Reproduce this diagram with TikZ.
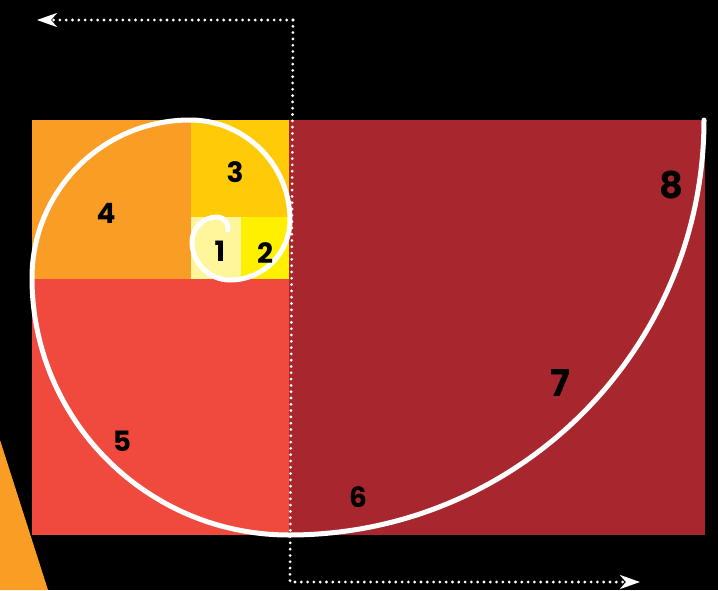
\documentclass[tikz,border=0pt]{standalone}
\usepackage{fontspec}
\setmainfont{Poppins}[BoldFont={Poppins Bold}]
\usetikzlibrary{arrows.meta}
\definecolor{bg}{HTML}{000000}
\definecolor{sqone}{HTML}{FFF59A}
\definecolor{sqtwo}{HTML}{FFF000}
\definecolor{sqthree}{HTML}{FFCB08}
\definecolor{sqfour}{HTML}{F99D25}
\definecolor{sqfive}{HTML}{F0493E}
\definecolor{sqbig}{HTML}{A8272E}
\tikzset{
  tile/.style={fill=#1, draw=none},
  lbl/.style={font=\bfseries\fontsize{28}{28}\selectfont, text=black, inner sep=0pt},
  biglbl/.style={font=\bfseries\fontsize{37}{37}\selectfont, text=black, inner sep=0pt},
  spiral/.style={draw=white, line width=5pt, line cap=round},
  dots/.style={draw=white, line width=3.1pt, line cap=round, dash pattern=on 0pt off 6.3pt},
  tip/.style={-{Stealth[length=20pt,width=14pt,inset=6pt]}}
}
\begin{document}
\begin{tikzpicture}[x=1pt,y=1pt]
\fill[bg] (0,0) rectangle (718,-590);
\useasboundingbox (0,0) rectangle (718,-590);
% orange triangle
\fill[sqfour] (0,-440) -- (48,-590) -- (0,-590) -- cycle;
% tiles
\fill[tile=sqbig]   (289,-120) rectangle (705,-535);
\fill[tile=sqfive]  (32,-279) rectangle (289,-535);
\fill[tile=sqfour]  (32,-120) rectangle (191,-279);
\fill[tile=sqthree] (191,-120) rectangle (289,-217);
\fill[tile=sqone]   (191,-217) rectangle (241,-279);
\fill[tile=sqtwo]   (241,-217) rectangle (289,-279);
% spiral
\draw[spiral] (704,-120)
  arc[start angle=0,end angle=-90,radius=415]
  arc[start angle=-90,end angle=-180,radius=257]
  arc[start angle=180,end angle=90,radius=158]
  arc[start angle=90,end angle=0,radius=100]
  arc[start angle=0,end angle=-90,radius=60]
  arc[start angle=-90,end angle=-180,radius=38]
  arc[start angle=180,end angle=90,radius=25]
  arc[start angle=90,end angle=-10,radius=11];
% labels
\node[lbl] (n1) at (220,-251) {1};
\node[lbl] (n2) at (265,-253) {2};
\node[lbl] (n3) at (235,-172) {3};
\node[lbl] (n4) at (106,-213) {4};
\node[lbl] (n5) at (122,-441) {5};
\node[lbl] (n6) at (358,-497) {6};
\node[biglbl] (n7) at (560,-383) {7};
\node[biglbl] (n8) at (671,-185) {8};
% dotted arrows
\coordinate (tl) at (37,-20);
\coordinate (c1) at (293,-20);
\coordinate (c2) at (290,-582);
\coordinate (br) at (640,-582);
\draw[dots,tip] (c1) -- (tl);
\draw[dots,tip] (c1) -- (c2) -- (br);
\end{tikzpicture}
\end{document}
